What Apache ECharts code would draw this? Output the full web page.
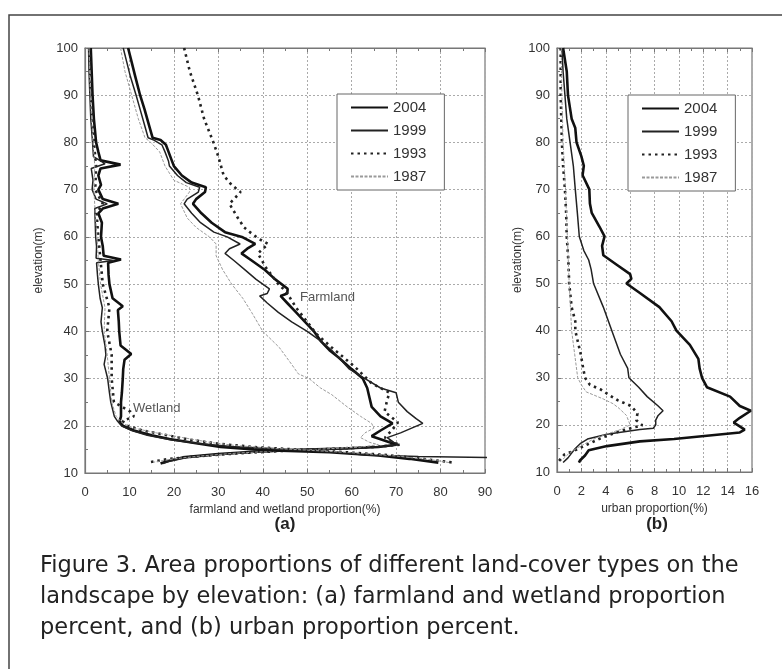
<!DOCTYPE html>
<html>
<head>
<meta charset="utf-8">
<script src="https://cdn.jsdelivr.net/npm/echarts@6/dist/echarts.min.js"></script>
<style>
  html, body { margin: 0; padding: 0; background: #fff; }
  #main { width: 782px; height: 669px; }
</style>
</head>
<body>
<div id="main"></div>
<script>
// series values are [proportion(%), elevation(m)]
const years = ['2004', '1999', '1993', '1987']
const farmTicks = [0, 90, 10]
const urbanTicks = [0, 16, 2]
const elevTicks = [10, 100, 10]

const farm2004 = [[9.7,100],[10.5,97],[11.3,94],[12.4,90],[13.4,87],[14.3,84],[15.2,81],[17.0,80.5],[18.2,79.5],[18.8,78],[19.6,76],[20.0,75],[21.8,73],[24.0,71.5],[27.2,70.5],[27.0,69.5],[25.0,68],[24.3,67],[26.2,65],[28.5,63],[31.5,61],[35.3,60],[38.3,58.5],[36.5,57.5],[35.2,56.5],[37.5,55],[40.5,53],[42.8,51],[45.6,49],[45.5,48],[44.0,47.5],[45.5,46],[47.5,44],[49.5,42],[51.5,40],[53.0,38],[55.0,36],[57.0,34.5],[60.0,32],[62.5,30],[63.5,28],[64.0,26],[64.5,24],[66.5,22],[69.2,20.5],[66.5,19],[64.5,17.8],[68.5,16.5],[70.0,16],[66.0,15.5],[58,15.2],[48,14.9],[38,14.5],[30,14],[22,13.3],[18.5,12.5],[17,12]]
const farm1999 = [[8.6,100],[9.4,97],[10.2,94],[11.5,90],[12.4,87],[13.3,84],[14.2,81],[15.5,80.5],[17.3,79.5],[18.0,78],[18.8,76],[19.0,75],[20.8,73],[22.8,71.5],[25.8,70.5],[25.5,69.5],[23.0,68],[22.3,67],[24.0,65],[26.0,63],[29.0,61],[32.0,60],[34.9,58.5],[32.5,57.5],[31.5,56.5],[33.5,55],[36.0,53],[38.5,51],[41.5,49],[41.0,48],[39.3,47.5],[41.0,46],[43.5,44],[46.5,42],[50.0,40],[53.0,38],[55.5,36],[57.0,34.5],[59.5,32],[63.0,30],[66.5,28],[70.0,27],[70.5,25],[72.5,23],[74.5,21.5],[76.0,20.5],[73.5,19.5],[71.0,18.5],[68.0,17.5],[69.5,16.5],[70.5,16],[67,15.6],[60,15.2],[50,14.9],[40,14.5],[31,14],[23,13.3],[19,12.5],[17.5,12]]
const farm1993 = [[22.3,100],[23.6,95],[25.4,90],[26.8,85],[28.9,80],[30.0,77],[31.2,73],[33.0,71],[35.0,69.5],[32.5,67],[34.4,64],[35.8,62],[37.1,61],[39.3,59.5],[41.2,58.5],[38.9,56.5],[40.7,53.5],[43.5,50],[45.2,48.5],[47.5,45],[50,42],[52.0,39.5],[55.6,36.5],[60.7,32.5],[64.5,29],[68.5,27],[68.0,25.5],[67.4,23],[70.4,20.7],[69,19],[67.5,17.5],[69,16.5],[71,16],[65,15.5],[55,15.1],[45,14.7],[35,14.2],[26,13.6],[19,13],[14,12.2]]
const farm1987 = [[8.0,100],[9.0,95],[10.5,90],[12.0,85],[13.5,81],[14.8,80],[16.8,78],[18.0,75],[20.0,72],[23.5,70.5],[23.5,69.5],[21.5,67],[23.0,64],[25.0,62],[28.0,60],[29.5,58.5],[29.5,56],[31.0,53],[33.0,50],[35.5,47],[37.5,44],[40.0,40],[43.7,36.6],[46.5,33],[48.0,31],[50.4,30],[53.0,28],[55.5,26.6],[59,24],[62,22],[64.5,20.5],[65,19.5],[63,18.5],[62,17.5],[64,16.5],[66,16],[62,15.5],[54,15.1],[44,14.7],[34,14.2],[26,13.6],[20,13],[15.5,12.3]]

const wet2004 = [[1.3,100],[1.5,95],[1.7,90],[2.0,85],[2.5,80],[3.0,78],[3.5,76.2],[8.0,75.3],[3.5,74.5],[3.0,73],[3.6,71],[3.0,70],[4.0,68],[7.5,67],[4.0,66],[3.0,65],[3.8,63],[3.6,60],[4.0,58],[4.2,56],[8.1,55.2],[5.2,54.5],[5.3,52],[5.5,50],[6.2,47],[8.5,45.3],[7.4,44.5],[7.6,42],[7.7,40],[8.0,37],[10.4,35.2],[8.9,34],[8.6,32],[8.5,30],[8.3,27],[8.1,25],[8.1,22],[7.8,21],[8.5,20],[11,19],[15,18],[19,17.2],[25,16.3],[30.5,15.5],[38,15],[44,14.7],[55,14.4],[66,13.7],[73,13],[79.5,12.2]]
const wet1999 = [[0.8,100],[0.9,95],[1.1,90],[1.3,85],[1.7,80],[1.9,77],[4.5,75.5],[1.4,74.5],[1.8,72],[1.6,70],[2.5,68],[5.0,67],[2.2,66],[2.3,63],[2.4,60],[2.6,58],[2.5,55.5],[6.5,55],[2.6,54.5],[2.8,52],[3.0,50],[3.4,47],[3.9,45],[3.6,42],[3.9,40],[4.5,37],[4.7,35],[4.3,33],[5.1,30],[5.5,27],[5.8,25],[6.6,22],[7.3,21],[8.2,20],[10.5,19],[14,18],[19.5,17],[26,16.2],[33,15.6],[42,15.2],[50,14.8],[58,14.3],[63,13.8],[75,13.5],[95,13.2]]
const wet1993 = [[1.0,100],[1.4,90],[2.0,80],[2.5,75],[2.3,70],[4,67],[2.6,65],[3.0,60],[3.5,55],[4.0,50],[5.5,45],[5.0,40],[6.0,35],[6.0,30],[6.5,25],[10.2,23],[11.0,22],[8.5,21],[9.5,20],[13,19],[18.5,18],[24,17],[30,16.2],[38,15.5],[47,15],[57,14.5],[68,13.8],[76,13],[83,12.2]]
const wet1987 = [[0.9,100],[1.2,90],[1.8,80],[2.2,75],[2.0,70],[2.3,65],[2.7,60],[3.0,55],[3.5,50],[4.5,45],[4.3,40],[5.0,35],[5.5,30],[6.0,25],[7.0,22],[8.5,20.5],[11,19.5],[16,18.5],[22,17.5],[28,16.5],[34,15.8],[43,15.2],[51,14.8],[60,14.3],[70,13.6],[78,12.8],[82,12.2]]

const urban2004 = [[0.5,100],[0.8,95],[0.9,90],[1.2,85],[1.5,83],[1.6,80],[2.0,77],[2.2,75],[2.1,73],[2.65,70],[2.7,67],[2.85,65],[3.5,62],[3.9,60],[3.7,58],[3.8,56],[4.9,54],[6.0,52],[6.1,51],[5.7,50],[6.8,48],[8.4,45],[9.4,42],[9.8,40],[10.9,37],[11.6,34],[11.7,32],[11.9,30],[12.3,28],[14.2,26],[15.0,24],[15.9,23],[15.0,21.5],[14.5,20.5],[14.8,20],[15.4,19],[15.0,18.4],[9.6,17],[6.8,16.5],[4.1,15.5],[2.6,14.6],[2.3,13.5],[1.9,12.5],[1.8,12]]
const urban1999 = [[0.4,100],[0.5,95],[0.65,90],[0.8,85],[1.07,80],[1.34,75],[1.5,70],[1.67,65],[1.83,60],[2.2,57],[2.6,55],[2.8,53],[3.0,50],[3.8,45],[4.5,40],[5.2,35],[5.8,32],[5.9,30],[6.7,28],[7.4,26],[8.3,24],[8.7,23],[8.3,22],[8.1,21],[8.1,20],[7.9,19.3],[6.8,19],[4.1,18],[2.5,17],[1.9,16],[1.5,15],[1.2,14],[0.9,13],[0.5,12]]
const urban1993 = [[0.3,100],[0.3,90],[0.4,80],[0.5,75],[0.65,70],[0.75,65],[0.8,60],[0.93,55],[1.0,50],[1.2,45],[1.5,42],[1.5,40],[1.95,35],[2.15,32],[2.3,30],[2.7,28.5],[3.6,27.5],[4.3,26.3],[5.0,25.2],[6.1,24],[6.6,22.4],[6.5,21],[7.0,19.9],[5.3,18.8],[3.7,17.3],[2.2,15.5],[1.4,14.5],[0.6,13.7],[0.15,12.3]]
const urban1987 = [[0.35,100],[0.4,90],[0.5,80],[0.7,70],[0.85,60],[1.0,50],[1.2,40],[1.45,35],[1.7,30],[2.0,28.5],[2.4,27],[3.8,25.5],[4.6,24.5],[5.1,23.5],[5.7,22],[6.0,20],[5.2,19],[4.0,18],[3.0,17],[2.3,16],[1.6,15],[1.0,14],[0.6,13],[0.3,12.3]]

const styles = {
    '2004': { color: '#111', width: 2.6, type: 'solid' },
    '1999': { color: '#222', width: 1.5, type: 'solid' },
    '1993': { color: '#222', width: 2.6, type: [2.5, 4] },
    '1987': { color: '#9a9a9a', width: 1, type: [3, 1.5] }
}

function mkSeries(name, data, xi, yi) {
    let s = styles[name]
    return {
        name: name,
        type: 'line',
        xAxisIndex: xi,
        yAxisIndex: yi,
        data: data,
        symbol: 'none',
        animation: false,
        color: s.color,
        lineStyle: { color: s.color, width: s.width, type: s.type }
    }
}

let myChart = echarts.init(document.getElementById('main'))

const labelStyle = { color: '#333', fontSize: 13, fontFamily: 'Liberation Sans, Arial' }
const gridLine = { show: true, lineStyle: { color: '#aaa', type: [2, 2], width: 1 } }
const axisLine = { show: true, lineStyle: { color: '#777', width: 1.2 } }

function xAx(gi, t, minorSplit, name, nameGap) {
    return [{
        gridIndex: gi, type: 'value', position: 'bottom',
        min: t[0], max: t[1], interval: t[2],
        axisLine: axisLine,
        axisTick: { inside: true, length: 4, lineStyle: { color: '#777' } },
        minorTick: { show: true, splitNumber: minorSplit, length: 3, lineStyle: { color: '#777' } },
        axisLabel: Object.assign({ margin: 13 }, labelStyle),
        splitLine: gridLine,
        name: name, nameLocation: 'middle', nameGap: nameGap,
        nameTextStyle: { color: '#333', fontSize: 12, fontFamily: 'Liberation Sans Narrow, Liberation Sans' }
    }, {
        gridIndex: gi, type: 'value', position: 'top',
        min: t[0], max: t[1], interval: t[2],
        axisLine: axisLine,
        axisTick: { inside: true, length: 4, lineStyle: { color: '#777' } },
        minorTick: { show: true, splitNumber: minorSplit, length: 3, lineStyle: { color: '#777' } },
        axisLabel: { show: false },
        splitLine: { show: false }
    }]
}

function yAx(gi, nameGap) {
    return {
        gridIndex: gi, type: 'value',
        min: elevTicks[0], max: elevTicks[1], interval: elevTicks[2],
        axisLine: axisLine,
        axisTick: { inside: true, length: 4, lineStyle: { color: '#777' } },
        minorTick: { show: true, splitNumber: 2, length: 3, lineStyle: { color: '#777' } },
        axisLabel: Object.assign({ margin: 7 }, labelStyle),
        splitLine: gridLine,
        name: 'elevation(m)', nameLocation: 'middle', nameGap: nameGap,
        nameTextStyle: { color: '#333', fontSize: 12, fontFamily: 'Liberation Sans Narrow, Liberation Sans' }
    }
}

const legendBase = {
    orient: 'vertical',
    data: years,
    padding: [6, 18, 6, 13],
    itemGap: 8,
    itemWidth: 37,
    itemHeight: 14,
    borderColor: '#666',
    borderWidth: 1,
    backgroundColor: '#fff',
    selectedMode: false,
    itemStyle: { opacity: 0 },
    textStyle: { fontSize: 15, color: '#333', fontFamily: 'Liberation Sans, Arial' }
}

let option = {
    backgroundColor: '#fff',
    animation: false,
    grid: [
        { left: 85, top: 48, width: 400, height: 425, show: true, borderColor: '#777', borderWidth: 1.2 },
        { left: 557, top: 48, width: 195, height: 424, show: true, borderColor: '#777', borderWidth: 1.2 }
    ],
    xAxis: [].concat(
        xAx(0, farmTicks, 2, 'farmland and wetland proportion(%)', 28),
        xAx(1, urbanTicks, 2, 'urban proportion(%)', 28)
    ),
    yAxis: [yAx(0, 40), yAx(1, 33)],
    legend: [
        Object.assign({ left: 337, top: 94 }, legendBase),
        Object.assign({ left: 628, top: 95 }, legendBase)
    ],
    graphic: [
        { type: 'rect', shape: { x: 9, y: 15, width: 820, height: 720 }, style: { fill: null, stroke: '#444', lineWidth: 1.5 }, silent: true },
        { type: 'text', x: 285, y: 524, style: { text: '(a)', font: 'bold 17px "Liberation Sans", Arial', fill: '#222', align: 'center', verticalAlign: 'middle' } },
        { type: 'text', x: 657, y: 524, style: { text: '(b)', font: 'bold 17px "Liberation Sans", Arial', fill: '#222', align: 'center', verticalAlign: 'middle' } },
        { type: 'text', x: 300, y: 297, style: { text: 'Farmland', font: '13px "Liberation Sans", Arial', fill: '#555', verticalAlign: 'middle' } },
        { type: 'text', x: 133, y: 408, style: { text: 'Wetland', font: '13px "Liberation Sans", Arial', fill: '#555', verticalAlign: 'middle' } },
        { type: 'text', x: 40, y: 551, style: {
            text: 'Figure 3. Area proportions of different land-cover types on the\nlandscape by elevation: (a) farmland and wetland proportion\npercent, and (b) urban proportion percent.',
            font: '22.5px "DejaVu Sans"', lineHeight: 31, fill: '#222' } }
    ],
    series: [
        mkSeries('2004', farm2004, 0, 0),
        mkSeries('1999', farm1999, 0, 0),
        mkSeries('1993', farm1993, 0, 0),
        mkSeries('1987', farm1987, 0, 0),
        mkSeries('2004', wet2004, 0, 0),
        mkSeries('1999', wet1999, 0, 0),
        mkSeries('1993', wet1993, 0, 0),
        mkSeries('1987', wet1987, 0, 0),
        mkSeries('2004', urban2004, 2, 1),
        mkSeries('1999', urban1999, 2, 1),
        mkSeries('1993', urban1993, 2, 1),
        mkSeries('1987', urban1987, 2, 1)
    ]
}

myChart.setOption(option)
</script>
</body>
</html>
